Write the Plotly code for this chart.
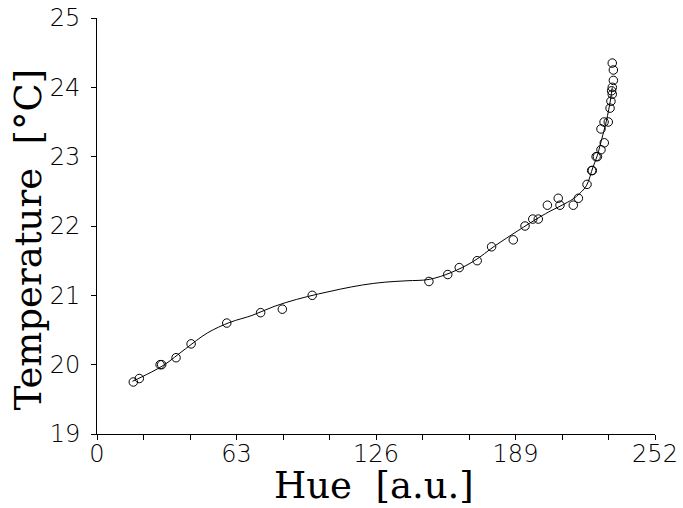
import plotly.graph_objects as go

# Measured points (Hue, Temperature)
hue = [16.4, 19.1, 28.5, 29.2, 35.7, 42.5, 58.6, 73.9, 83.7, 97.2,
       149.9, 158.4, 163.6, 171.7, 178.2, 188.0, 193.3, 196.8, 199.3, 203.4,
       208.3, 209.1, 215.1, 217.4, 221.3, 223.4, 223.7, 225.4, 226.0, 227.6,
       229.1, 227.6, 229.0, 230.9, 231.7, 232.1, 232.7, 232.4, 232.7, 233.2,
       233.2, 232.7]
temp = [19.75, 19.80, 20.00, 20.00, 20.10, 20.30, 20.60, 20.75, 20.80, 21.00,
        21.20, 21.30, 21.40, 21.50, 21.70, 21.80, 22.00, 22.10, 22.10, 22.30,
        22.40, 22.30, 22.30, 22.40, 22.60, 22.80, 22.80, 23.00, 23.00, 23.10,
        23.20, 23.40, 23.50, 23.50, 23.70, 23.80, 23.90, 23.95, 24.00, 24.10,
        24.25, 24.35]

# Fitted curve samples
fit_hue = [16, 20, 30, 40, 50, 60, 70, 80, 90, 100, 110, 120, 130, 140, 150,
           160, 170, 180, 190, 200, 205, 210, 215, 218, 221, 224, 226, 227,
           230, 232, 232.7]
fit_temp = [19.76, 19.82, 19.99, 20.23, 20.46, 20.61, 20.71, 20.84, 20.94, 21.02,
            21.09, 21.15, 21.19, 21.21, 21.23, 21.33, 21.49, 21.72, 21.93, 22.13,
            22.22, 22.30, 22.39, 22.47, 22.58, 22.85, 23.02, 23.14, 23.51, 23.84,
            24.00]

x_ticks = [0, 63, 126, 189, 252]
y_ticks = [19, 20, 21, 22, 23, 24, 25]

fig = go.Figure()
fig.add_trace(go.Scatter(x=fit_hue, y=fit_temp, mode="lines",
                         line=dict(color="black", width=1, shape="spline"),
                         hoverinfo="skip", showlegend=False))
fig.add_trace(go.Scatter(x=hue, y=temp, mode="markers",
                         marker=dict(symbol="circle-open", size=8.5, color="black",
                                     line=dict(width=1, color="black")),
                         showlegend=False))

tick_font = dict(family="DejaVu Sans", size=24, color="black", weight=200)
title_font = dict(family="DejaVu Serif", size=37, color="black")

fig.update_layout(
    template="none",
    width=683, height=508,
    margin=dict(l=97, r=28, t=18, b=74, pad=0),
    paper_bgcolor="white", plot_bgcolor="white",
    xaxis=dict(range=[0, 252], tickvals=x_ticks, ticktext=[str(v) for v in x_ticks],
               ticks="outside", ticklen=5, tickcolor="black", tickwidth=1,
               showline=True, linecolor="black", linewidth=1, showgrid=False,
               zeroline=False, tickfont=tick_font, automargin=False,
               ticklabelstandoff=-7,
               minor=dict(dtick=21, tick0=0, ticks="outside", ticklen=5,
                          tickcolor="black", showgrid=False)),
    yaxis=dict(range=[19, 25], tickvals=y_ticks, ticktext=[str(v) for v in y_ticks],
               ticks="outside", ticklen=5, tickcolor="black", tickwidth=1,
               showline=True, linecolor="black", linewidth=1, showgrid=False,
               zeroline=False, tickfont=tick_font, ticklabelstandoff=6,
               automargin=False),
    annotations=[
        dict(text="Hue\u00a0\u00a0[a.u.]", xref="paper", yref="paper",
             x=0.4964, y=-0.1226, xanchor="center", yanchor="middle",
             showarrow=False, font=title_font),
        dict(text="Temperature\u00a0\u00a0[°C]", xref="paper", yref="paper",
             x=-0.1228, y=0.469, xanchor="center", yanchor="middle", textangle=-90,
             showarrow=False, font=title_font),
    ],
)

fig.write_html("out.html", config={"displayModeBar": False},
               post_script="document.body.style.margin='0';document.body.style.overflow='hidden';")
